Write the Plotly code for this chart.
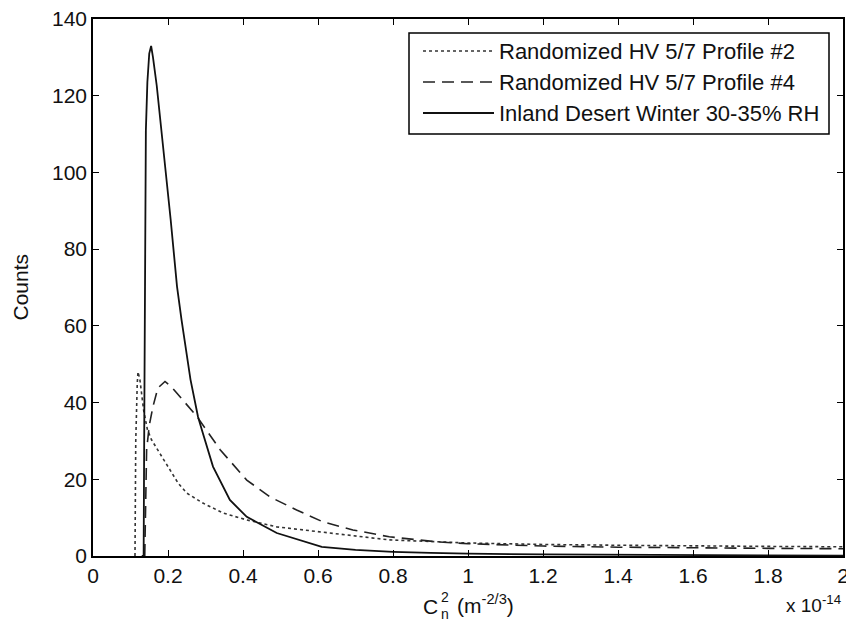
import plotly.graph_objects as go

# Cn^2 values in units of 1e-14 m^-2/3, counts
names = ["Randomized HV 5/7 Profile #2",
         "Randomized HV 5/7 Profile #4",
         "Inland Desert Winter 30-35% RH"]

x_p2 = [0.112, 0.114, 0.118, 0.120, 0.125, 0.135, 0.145, 0.156, 0.183, 0.227, 0.250,
        0.293, 0.347, 0.410, 0.490, 0.632, 0.790, 1.0, 1.2, 1.4, 1.6, 1.8, 2.0]
y_p2 = [0, 30, 45, 48, 46, 38, 33, 30.3, 26, 19, 16.4,
        13.8, 11.2, 9.4, 7.6, 6, 4.2, 3.4, 3.0, 2.8, 2.6, 2.5, 2.4]

x_p4 = [0.138, 0.143, 0.150, 0.160, 0.173, 0.192, 0.210, 0.240, 0.277, 0.339, 0.410,
        0.472, 0.543, 0.613, 0.693, 0.790, 0.917, 1.0, 1.2, 1.4, 1.6, 1.8, 2.0]
y_p4 = [0, 27.7, 34, 39, 43.8, 45.5, 44, 40.7, 36.4, 27.7, 19.8,
        15.4, 12, 8.9, 6.8, 5, 3.7, 3.2, 2.6, 2.3, 2.1, 2.0, 1.9]

x_id = [0.13, 0.135, 0.137, 0.139, 0.141, 0.145, 0.150, 0.155, 0.160, 0.170, 0.189,
        0.207, 0.224, 0.236, 0.260, 0.280, 0.293, 0.320, 0.365, 0.410, 0.490, 0.610,
        0.700, 0.800, 0.900, 1.0, 1.2, 1.4, 1.6, 1.8, 2.0]
y_id = [0, 0, 40, 91, 111, 123.5, 131, 133, 130, 122.6, 105,
        87.8, 70.3, 61.6, 46, 36.3, 32, 23.3, 14.6, 10.2, 6, 2.4,
        1.6, 1.1, 0.8, 0.6, 0.4, 0.3, 0.2, 0.2, 0.1]

x_ticks = [0, 0.2, 0.4, 0.6, 0.8, 1.0, 1.2, 1.4, 1.6, 1.8, 2.0]
x_ticktext = ["0", "0.2", "0.4", "0.6", "0.8", "1", "1.2", "1.4", "1.6", "1.8", "2"]
y_ticks = [0, 20, 40, 60, 80, 100, 120, 140]

# the page body adds an 8px margin (top/left), so the figure is shrunk by that much
OFF = 8
W, H = 854 - OFF, 624 - OFF
L, R, T, B = 93 - OFF, 11, 19 - OFF, 68
font = "Liberation Sans, Arial, sans-serif"

def px(xp):
    # page pixel -> paper fraction
    return (xp - OFF - L) / (W - L - R)

def py(yp):
    return (H - B - (yp - OFF)) / (H - T - B)

styles = [dict(color="#333333", width=1.6, dash="dot"),
          dict(color="#222222", width=1.6, dash="12px,7px"),
          dict(color="#111111", width=1.8, dash="solid")]

fig = go.Figure()
for name, xs, ys, st in zip(names, [x_p2, x_p4, x_id], [y_p2, y_p4, y_id], styles):
    fig.add_trace(go.Scatter(x=xs, y=ys, mode="lines", name=name, line=st,
                             showlegend=False))

axis_common = dict(showline=True, linecolor="black", linewidth=1.5, mirror="ticks",
                   ticks="inside", ticklen=6, tickcolor="black", tickwidth=1.2,
                   showgrid=False, zeroline=False, automargin=False,
                   ticklabeloverflow="allow",
                   tickfont=dict(family=font, size=21, color="#111"))

fig.update_layout(
    width=W, height=H,
    margin=dict(l=L, r=R, t=T, b=B, autoexpand=False),
    paper_bgcolor="white", plot_bgcolor="white",
    xaxis=dict(range=[0, 2], tickvals=x_ticks, ticktext=x_ticktext, **axis_common),
    yaxis=dict(range=[0, 140], tickvals=y_ticks, **axis_common),
)

# legend box drawn MATLAB style
shapes = [dict(type="rect", xref="paper", yref="paper",
               x0=px(409), x1=px(829), y0=py(134), y1=py(33),
               line=dict(color="black", width=1.5), fillcolor="white", layer="above")]
annotations = []
rows = [51, 82, 113]
for name, st, ry in zip(names, styles, rows):
    shapes.append(dict(type="line", xref="paper", yref="paper",
                       x0=px(423), x1=px(494), y0=py(ry), y1=py(ry),
                       line=st, layer="above"))
    annotations.append(dict(text=name, xref="paper", yref="paper", x=px(497), y=py(ry),
                            xanchor="left", yanchor="middle", showarrow=False,
                            font=dict(family=font, size=22, color="#111")))

# axis titles
annotations.append(dict(text="Counts", xref="paper", yref="paper", x=px(20), y=0.5,
                        textangle=-90, showarrow=False, xanchor="center", yanchor="middle",
                        font=dict(family=font, size=21, color="#111")))
annotations.append(dict(text="C", xref="paper", yref="paper", x=px(421), y=py(606),
                        xanchor="left", yanchor="middle", showarrow=False,
                        font=dict(family=font, size=21, color="#111")))
annotations.append(dict(text="2", xref="paper", yref="paper", x=px(439), y=py(597),
                        xanchor="left", yanchor="middle", showarrow=False,
                        font=dict(family=font, size=14, color="#111")))
annotations.append(dict(text="n", xref="paper", yref="paper", x=px(439), y=py(614),
                        xanchor="left", yanchor="middle", showarrow=False,
                        font=dict(family=font, size=14, color="#111")))
annotations.append(dict(text="(m<sup>-2/3</sup>)", xref="paper", yref="paper",
                        x=px(455), y=py(604), xanchor="left", yanchor="middle",
                        showarrow=False, font=dict(family=font, size=21, color="#111")))
annotations.append(dict(text="x 10<sup>-14</sup>", xref="paper", yref="paper",
                        x=px(843), y=py(604), xanchor="right", yanchor="middle",
                        showarrow=False, font=dict(family=font, size=19, color="#111")))

fig.update_layout(shapes=shapes, annotations=annotations)

fig.write_html("out.html")
